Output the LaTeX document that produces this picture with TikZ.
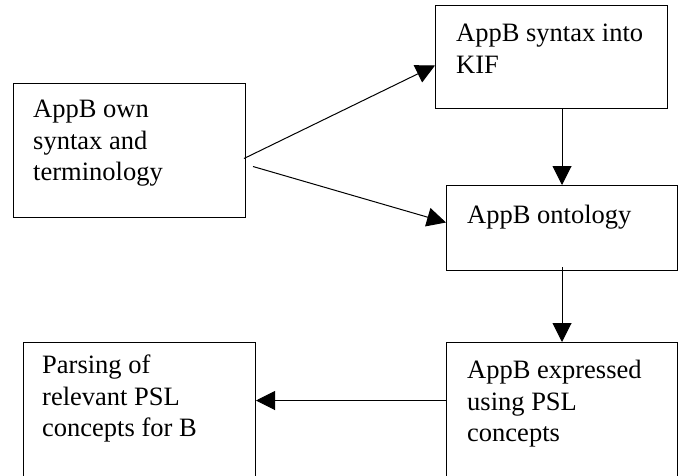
\documentclass[tikz,border=0pt]{standalone}
\usepackage{fontspec}
\setmainfont{Liberation Serif}
\usetikzlibrary{arrows.meta}
\begin{document}
\begin{tikzpicture}[x=1pt,y=-1pt,
  box/.style={draw, line width=1pt, inner sep=0pt, anchor=north west},
  txt/.style={anchor=north west, inner sep=0pt, align=left, font=\fontsize{26.5pt}{31.5pt}\selectfont},
  arr/.style={line width=1pt, -{Triangle[length=19pt,width=19pt]}}]
\useasboundingbox (0,0) rectangle (683,475);
\clip (0,0) rectangle (683,475);
\fill[white] (0,0) rectangle (683,475);
% boxes
\node[box, minimum width=232pt, minimum height=134pt] (A) at (13,83) {};
\node[box, minimum width=232pt, minimum height=103pt] (B) at (435,5) {};
\node[box, minimum width=231pt, minimum height=85pt] (C) at (446,185) {};
\node[box, minimum width=231pt, minimum height=150pt] (D) at (446,342) {};
\node[box, minimum width=232pt, minimum height=150pt] (E) at (23,342) {};
% texts
\node[txt] (tA) at (33,100) {AppB own\\syntax and\\terminology};
\node[txt] (tB) at (456,24) {AppB syntax into\\KIF};
\node[txt] (tC) at (467,205) {AppB ontology};
\node[txt] (tD) at (467,360) {AppB expressed\\using PSL\\concepts};
\node[txt] (tE) at (42,355) {Parsing of\\relevant PSL\\concepts for B};
% connectors
\draw[arr] ([shift={(-2pt,-8pt)}]A.east) -- ([yshift=-8.5pt]B.west);
\draw[arr] ([shift={(7pt,-16pt)}]A.east) -- ([yshift=5.5pt]C.west);
\draw[arr] (B.south -| C.north) -- (C.north);
\draw[arr] ([yshift=4pt]C.south) -- (D.north);
\draw[arr] ([yshift=17pt]D.west) -- ([yshift=17pt]E.east);
\end{tikzpicture}
\end{document}
